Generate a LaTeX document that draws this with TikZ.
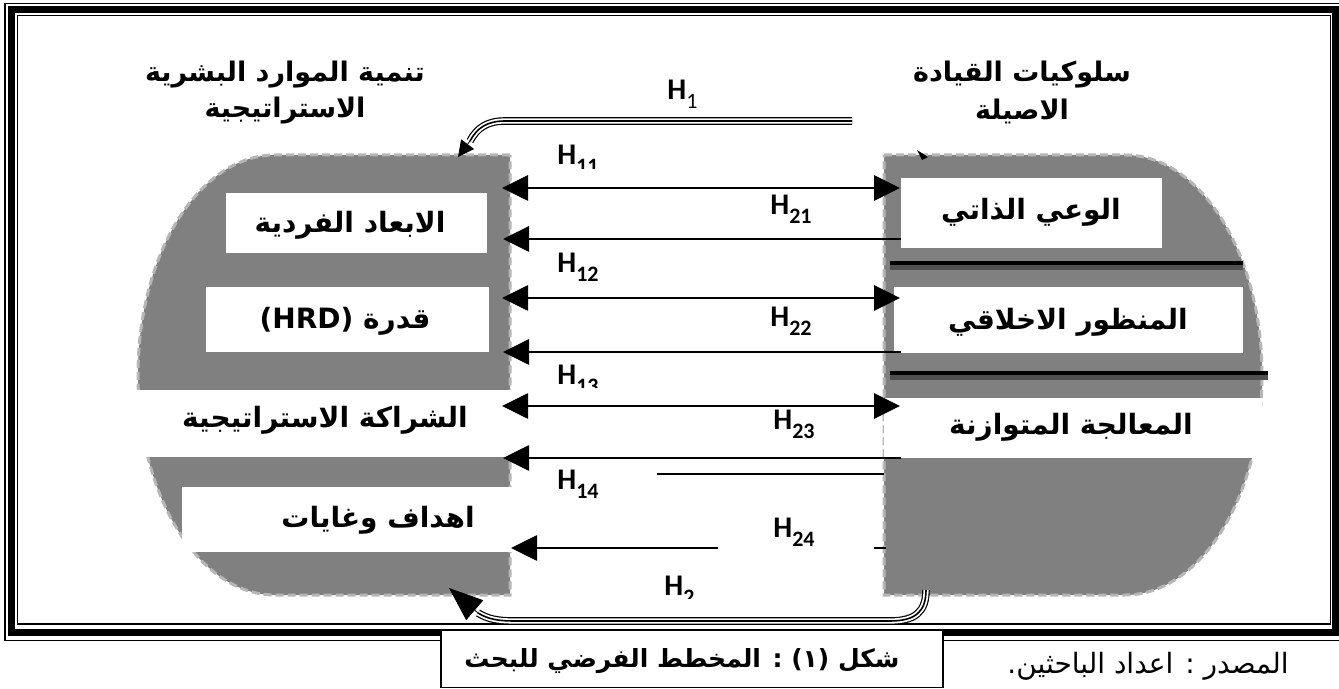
\documentclass[tikz,border=0pt]{standalone}
\usepackage{fontspec}
\setmainfont{Liberation Sans}
\newfontfamily\arabicfont[Script=Arabic]{DejaVu Sans}
\newfontfamily\hfont{Carlito}
\TeXXeTstate=1
\usetikzlibrary{arrows.meta}
\definecolor{blobgray}{RGB}{128,128,128}
\definecolor{dashgray}{RGB}{182,182,182}
\definecolor{shadowgray}{RGB}{80,80,80}
\newcommand{\AR}[1]{{\arabicfont\beginR #1\endR}}
\newcommand{\HL}[1]{H\raisebox{-0.28em}{\fontsize{11}{11}\selectfont #1}}
\tikzset{
  grayblob/.style={fill=blobgray, draw=dashgray, line width=1.5pt, dash pattern=on 4pt off 2pt},
  arr/.style={line width=1.4pt, -{Triangle[length=13pt,width=12.5pt]}},
  darr/.style={line width=1.4pt, {Triangle[length=13pt,width=12.5pt]}-{Triangle[length=13pt,width=12.5pt]}},
  boxtext/.style={font=\arabicfont\bfseries\fontsize{14}{16}\selectfont, inner sep=0pt},
  titletext/.style={font=\arabicfont\bfseries\fontsize{13.5}{16}\selectfont, inner sep=0pt},
  hlab/.style={font=\hfont\bfseries\fontsize{15}{15}\selectfont, anchor=base west, inner sep=0pt},
  triple/.style={preaction={draw, line width=3.8pt, black}, preaction={draw, line width=2.6pt, white}, draw, line width=0.8pt},
  sepline/.style={line width=1.6pt},
  sepshadow/.style={line width=2.6pt, shadowgray}
}
\begin{document}
\begin{tikzpicture}[x=0.5pt, y=-0.5pt]
\useasboundingbox (0,0) rectangle (1339,689);
% frame
\draw[line width=0.6pt] (5,3.5) rectangle (1350,640.5);
\draw[line width=3.8pt] (11.5,9.5) rectangle (1335.5,632.5);
\draw[line width=0.6pt] (17.5,15.5) rectangle (1330.5,624);

% gray shapes
\draw[grayblob] (510,155) -- (275,155) arc[start angle=270, end angle=90, x radius=137, y radius=220] -- (510,595) -- cycle;
\draw[grayblob] (884,155) -- (1125,155) arc[start angle=270, end angle=450, x radius=137, y radius=220] -- (884,595) -- cycle;

% left white boxes
\fill[white] (226,193) rectangle (487,253);
\fill[white] (206,287) rectangle (489,352);
\fill[white] (120,390) rectangle (512,457);
\fill[white] (182,487) rectangle (512,552);
% right white boxes
\fill[white] (901,178) rectangle (1162,248);
\fill[white] (894,287) rectangle (1243,353);
\fill[white] (884,398) rectangle (1262,458);
% separator lines
\draw[sepshadow] (890,267.5) -- (1243,267.5);
\draw[sepline] (890,263) -- (1243,263);
\draw[sepshadow] (890,377.5) -- (1268,377.5);
\draw[sepline] (890,373) -- (1268,373);

% texts
\node[titletext] (tl1) at (285,75) {\AR{تنمية الموارد البشرية}};
\node[titletext] (tl2) at (285,111) {\AR{الاستراتيجية}};
\node[titletext] (tr1) at (1022,75) {\AR{سلوكيات القيادة}};
\node[titletext] (tr2) at (1022,111) {\AR{الاصيلة}};

\node[boxtext] (b1) at (350,225) {\AR{الابعاد الفردية}};
\node[boxtext] (b2) at (345,321) {\AR{قدرة (HRD)}};
\node[boxtext] (b3) at (325,420) {\AR{الشراكة الاستراتيجية}};
\node[boxtext] (b4) at (378,520) {\AR{اهداف وغايات}};
\node[boxtext] (r1) at (1031,212) {\AR{الوعي الذاتي}};
\node[boxtext] (r2) at (1068,322) {\AR{المنظور الاخلاقي}};
\node[boxtext] (r3) at (1071,427) {\AR{المعالجة المتوازنة}};

% arrow end points
\coordinate (la1) at (502,188); \coordinate (ra1) at (900,188);
\coordinate (la2) at (503,239); \coordinate (ra2) at (901,239);
\coordinate (la3) at (502,298); \coordinate (ra3) at (900,298);
\coordinate (la4) at (503,352); \coordinate (ra4) at (901,352);
\coordinate (la5) at (502,406); \coordinate (ra5) at (900,406);
\coordinate (la6) at (503,458); \coordinate (ra6) at (901,458);
\coordinate (la7) at (511,548); \coordinate (ra7) at (718,548);
\draw[darr] (la1) -- (ra1);
\draw[arr] (ra2) -- (la2);
\draw[darr] (la3) -- (ra3);
\draw[arr] (ra4) -- (la4);
\draw[darr] (la5) -- (ra5);
\draw[arr] (ra6) -- (la6);
\draw[arr] (ra7) -- (la7);
\coordinate (t1) at (657,474); \coordinate (t2) at (884,474);
\draw[line width=0.8pt] (t1) -- (t2);
\coordinate (s1) at (874,548); \coordinate (s2) at (886,548);
\draw[line width=1.4pt] (s1) -- (s2);

% H labels
\node[hlab] (h1) at (667,100) {H\raisebox{-0.28em}{\fontsize{11}{11}\selectfont\mdseries 1}};
\begin{scope}
  \clip (540,120) rectangle (640,169);
  \node[hlab] (h11) at (557,165) {\HL{11}};
\end{scope}
\node[hlab] (h21) at (770,215) {\HL{21}};
\node[hlab] (h12) at (557,273) {\HL{12}};
\node[hlab] (h22) at (770,327) {\HL{22}};
\begin{scope}
  \clip (540,340) rectangle (640,388);
  \node[hlab] (h13) at (557,385) {\HL{13}};
\end{scope}
\node[hlab] (h23) at (773,430) {\HL{23}};
\node[hlab] (h14) at (557,490) {\HL{14}};
\node[hlab] (h24) at (773,538) {\HL{24}};
\begin{scope}
  \clip (640,560) rectangle (720,598);
  \node[hlab] (h2) at (664,596) {\HL{2}};
\end{scope}

% H1 connector
\coordinate (c1s) at (852,121);
\coordinate (c1e) at (470,141);
\coordinate (c1t) at (458,157);
\draw[triple] (c1s) -- (505,121) .. controls (487,121) and (477,128) .. (c1e);
\draw[line width=0.4pt, -{Triangle[length=8pt,width=8pt]}] (c1e) -- (c1t);
\fill (917,150) -- (928,157) -- (922,160) -- cycle;

% H2 connector
\coordinate (c2s) at (926,590);
\coordinate (c2e) at (478,613);
\coordinate (c2t) at (449,588);
\draw[triple] (c2s) .. controls (926,612) and (915,621) .. (890,621) -- (515,621) .. controls (497,621) and (488,619) .. (c2e);
\draw[line width=0.4pt, -{Triangle[length=17pt,width=13pt]}] (c2e) -- (c2t);

% caption box
\node[draw, line width=0.6pt, fill=white, minimum width=251pt, minimum height=28.5pt, inner sep=0pt] (cap) at (692,659) {};
\node[font=\arabicfont\bfseries\fontsize{12.5}{15}\selectfont, inner sep=0pt] (captext) at (682,661) {\AR{شكل (١) : المخطط الفرضي للبحث}};
\node[font=\arabicfont\fontsize{14}{16}\selectfont, inner sep=0pt] (src) at (1148,666) {\AR{المصدر : اعداد الباحثين\kern0pt.}};
\end{tikzpicture}
\end{document}
